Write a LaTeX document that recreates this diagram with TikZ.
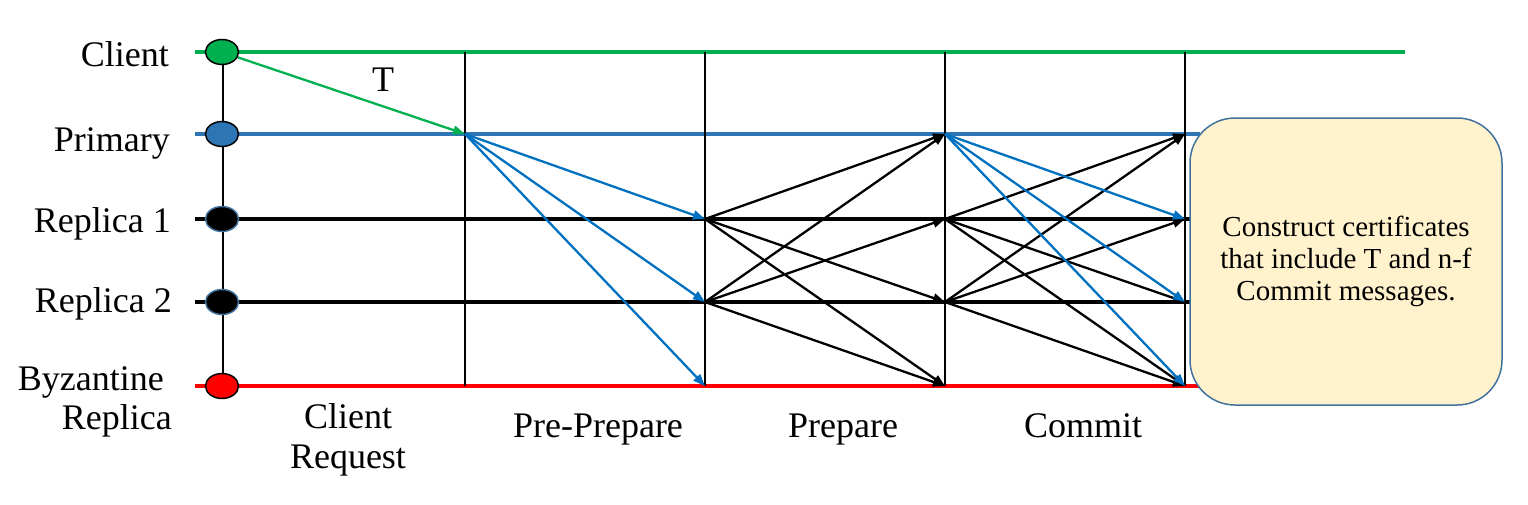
\documentclass[tikz,border=0pt]{standalone}
\usepackage{fontspec}
\setmainfont{Liberation Serif}
\usetikzlibrary{arrows.meta,shapes.geometric}
\definecolor{cgreen}{HTML}{00B050}
\definecolor{cblue}{HTML}{2E75B6}
\definecolor{cablue}{HTML}{0070C0}
\definecolor{cred}{HTML}{FF0000}
\definecolor{cedge}{HTML}{41719C}
\definecolor{cfill}{HTML}{FFF2CC}
\begin{document}
\begin{tikzpicture}[x=1pt,y=-1pt,
  lbl/.style={font=\fontsize{36}{40}\selectfont, inner sep=0pt},
  dot/.style={ellipse, draw, minimum width=33pt, minimum height=25pt, inner sep=0pt, line width=1.5pt},
  tl/.style={line width=3.5pt},
  vl/.style={line width=2.8pt, draw=black},
  msg/.style={line width=2.3pt, -{Triangle[length=12pt,width=9pt]}},
  bmsg/.style={msg, draw=cablue},
  kmsg/.style={msg, draw=black},
]
\useasboundingbox (0,0) rectangle (1528,504);

% event coordinates: column k, row r
\foreach \c/\x in {1/465,2/705,3/945,4/1185}{
  \foreach \r/\y in {0/52,1/134,2/219,3/302,4/386}{
    \coordinate (e\c\r) at (\x,\y);
  }
}
\foreach \r/\y in {0/52,1/134,2/219,3/302,4/386}{
  \coordinate (s\r) at (195,\y);
}
\coordinate (g0) at (1405,52);
\foreach \r/\y in {1/134,2/219,3/302,4/386}{
  \coordinate (t\r) at (1200,\y);
}

% timelines
\draw[tl, cgreen] (s0) -- (g0);
\draw[tl, cblue] (s1) -- (t1);
\draw[tl, black] (s2) -- (t2);
\draw[tl, black] (s3) -- (t3);
\draw[tl, cred] (s4) -- (t4);

% phase separators
\foreach \c in {1,2,3,4}{ \draw[vl] (e\c0) -- (e\c4); }

% process dots
\coordinate (d0) at (223,52);
\coordinate (d4) at (223,386);
\draw[line width=2.8pt] (d0) -- (d4);
\node[dot, fill=cgreen] (c0) at (222,52) {};
\node[dot, fill=cblue] (c1) at (222,134) {};
\node[dot, fill=black, draw=cedge] (c2) at (222,219) {};
\node[dot, fill=black, draw=cedge] (c3) at (222,302) {};
\node[dot, fill=cred] (c4) at (222,386) {};

% labels
\node[lbl, anchor=base east] (l0) at (169,66) {Client};
\node[lbl, anchor=base east] (l1) at (170,151) {Primary};
\node[lbl, anchor=base east] (l2) at (171,232) {Replica 1};
\node[lbl, anchor=base east] (l3) at (172,312) {Replica 2};
\node[lbl, anchor=base east] (l4) at (164,390) {Byzantine};
\node[lbl, anchor=base east] (l5) at (172,429) {Replica};

% client request
\draw[msg, draw=cgreen] (c0) -- (e11);
\node[lbl, anchor=base] (tl) at (383,91) {T};

% pre-prepare
\foreach \r in {2,3,4}{ \draw[bmsg] (e11) -- (e2\r); }

% prepare
\foreach \r in {1,3,4}{ \draw[kmsg] (e22) -- (e3\r); }
\foreach \r in {1,2,4}{ \draw[kmsg] (e23) -- (e3\r); }

% commit
\foreach \r in {1,3,4}{ \draw[kmsg] (e32) -- (e4\r); }
\foreach \r in {1,2,4}{ \draw[kmsg] (e33) -- (e4\r); }
\foreach \r in {2,3,4}{ \draw[bmsg] (e31) -- (e4\r); }

% phase labels
\node[lbl, align=center, anchor=north] (p1) at (348,403) {Client\\Request};
\node[lbl, anchor=base] (p2) at (598,437) {Pre-Prepare};
\node[lbl, anchor=base] (p3) at (843,437) {Prepare};
\node[lbl, anchor=base] (p4) at (1083,437) {Commit};

% certificate box
\node[draw=cedge, fill=cfill, rounded corners=45pt, line width=1.5pt,
      minimum width=312pt, minimum height=287pt, align=center,
      font=\fontsize{29}{32}\selectfont] (box) at (1346,261.5)
  {Construct certificates\\that include T and n-f\\Commit messages.};
\end{tikzpicture}
\end{document}
